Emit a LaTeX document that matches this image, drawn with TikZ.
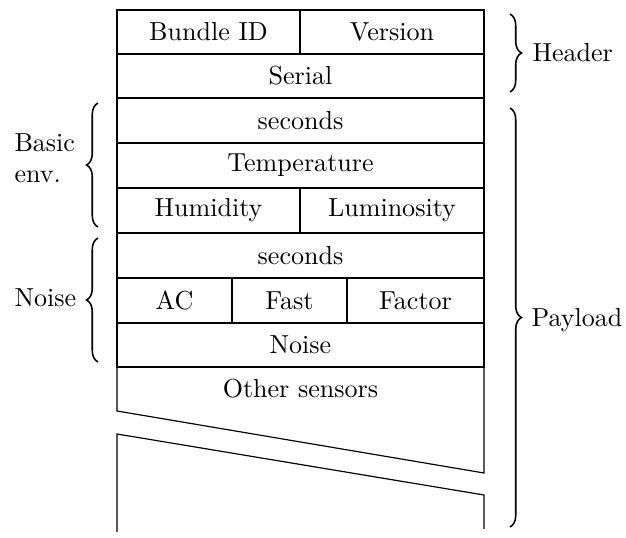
\documentclass[tikz,border=0pt]{standalone}
\usetikzlibrary{decorations.pathreplacing}
\begin{document}
\begin{tikzpicture}[x=0.384pt,y=-0.384pt,
  grid/.style={line width=0.45pt},
  lbl/.style={inner sep=0pt,font=\normalsize},
  bracer/.style={decorate,decoration={brace,amplitude=4.4pt},line width=0.6pt},
  side/.style={inner sep=0pt,anchor=west,align=left}]
\useasboundingbox (0,0) rectangle (626,538);
% grid
\draw[grid] (117,10) rectangle (484,367);
\foreach \y in {54,98,143,188,233,278,323} \draw[grid] (117,\y) -- (484,\y);
\draw[grid] (300,10) -- (300,54);
\draw[grid] (300,188) -- (300,233);
\draw[grid] (232,278) -- (232,323);
\draw[grid] (347,278) -- (347,323);
% other sensors with break
\draw[grid] (117,367) -- (117,411) -- (484,473) -- (484,367);
\draw[grid] (117,532) -- (117,434) -- (484,495) -- (484,529);
% texts
\node[lbl] (bid) at (208.5,32) {Bundle ID};
\node[lbl] (ver) at (392,32) {Version};
\node[lbl] (ser) at (300.5,76) {Serial};
\node[lbl] (sec1) at (300.5,120.5) {seconds};
\node[lbl] (tmp) at (300.5,165.5) {Temperature};
\node[lbl] (hum) at (208.5,210.5) {Humidity};
\node[lbl] (lum) at (392,210.5) {Luminosity};
\node[lbl] (sec2) at (300.5,255.5) {seconds};
\node[lbl] (ac) at (174.5,300.5) {AC};
\node[lbl] (fast) at (289.5,300.5) {Fast};
\node[lbl] (fac) at (415.5,300.5) {Factor};
\node[lbl] (noi) at (300.5,345) {Noise};
\node[lbl] (oth) at (300.5,389) {Other sensors};
% braces
\coordinate (h1) at (510,14);
\coordinate (h2) at (510,92);
\coordinate (p1) at (510,108);
\coordinate (p2) at (510,527);
\coordinate (b1) at (98,227);
\coordinate (b2) at (98,103);
\coordinate (n1) at (98,362);
\coordinate (n2) at (98,238);
\draw[bracer] (h1) -- (h2);
\draw[bracer] (p1) -- (p2);
\draw[bracer] (b1) -- (b2);
\draw[bracer] (n1) -- (n2);
\node[side] (hdr) at (532,53) {Header};
\node[side] (pay) at (531,320) {Payload};
\node[side] (bas) at (14,158) {Basic\\env.};
\node[side] (nse) at (14,298) {Noise};
\end{tikzpicture}
\end{document}
